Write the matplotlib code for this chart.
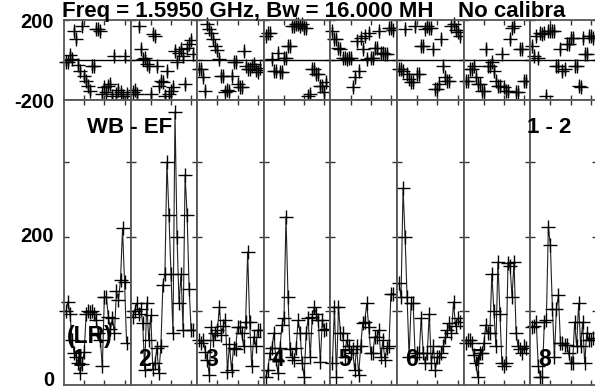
import numpy as np
import matplotlib
matplotlib.use('Agg')
import matplotlib.pyplot as plt

plt.rcParams['font.family'] = ['Liberation Sans', 'DejaVu Sans']

# channel axis shared by all 8 IFs
channels = np.arange(1, 32)
if_labels = ['1', '2', '3', '4', '5', '6', '7', '8']

# amplitude per IF (bottom panel)
amp_if1 = [100, 112, 95, 60, 43, 38, 30, 16, 28, 45, 96, 100, 98, 100, 95, 87, 70, 60, 25, 119,
           118, 92, 75, 90, 70, 126, 115, 141, 211, 139, 56]
amp_if2 = [92, 100, 110, 96, 103, 83, 20, 111, 60, 94, 22, 29, 50, 16, 52, 135, 150, 300, 229, 150,
           70, 368, 200, 110, 150, 74, 283, 229, 130, 74, 74]
amp_if3 = [60, 56, 60, 45, 34, 13, 78, 60, 70, 74, 105, 68, 80, 87, 18, 55, 20, 50, 48, 78,
           78, 70, 52, 85, 179, 85, 25, 65, 52, 74, 74]
amp_if4 = [11, 20, 43, 50, 70, 35, 16, 50, 81, 90, 227, 119, 48, 38, 34, 50, 87, 70, 29, 11,
           70, 90, 38, 92, 105, 96, 87, 31, 87, 74, 76]
amp_if5 = [30, 105, 11, 105, 70, 70, 38, 60, 52, 43, 48, 20, 52, 13, 52, 83, 85, 110, 78, 43,
           43, 65, 65, 74, 38, 60, 34, 50, 52, 123, 123]
amp_if6 = [137, 118, 265, 200, 118, 38, 110, 110, 38, 43, 43, 90, 43, 29, 43, 96, 29, 52, 20, 38,
           38, 43, 52, 65, 74, 83, 70, 112, 79, 90, 85]
amp_if7 = [56, 60, 60, 56, 40, 29, 11, 43, 43, 56, 81, 70, 70, 150, 100, 52, 166, 96, 29, 25,
           29, 165, 160, 119, 166, 70, 52, 48, 43, 52, 50]
amp_if8 = [78, 80, 85, 25, 11, 11, 85, 87, 213, 188, 103, 38, 103, 121, 56, 56, 54, 54, 43, 29,
           29, 85, 52, 110, 52, 85, 29, 70, 61, 61, 63]

# phase per IF (top panel)
ph_if1 = [-12, -12, 24, 7, 145, 104, -26, -54, 170, -79, -104, -129, -154, -29, -32, 153, 153, 145, -170, -137,
          -162, -129, -120, -178, 21, -170, -150, -160, -178, 21, -170]
ph_if2 = [-162, -150, -170, 170, 54, 4, 12, -21, -29, -170, 129, 120, -29, -129, -104, -112, -178, -54, -170, -154,
          -137, 46, -12, 37, 54, 21, -120, 60, 80, 100, 30]
ph_if3 = [-46, -46, -87, -154, 178, 153, 137, 104, 71, 50, 4, -79, -79, -162, -150, -154, -79, -12, -12, -120,
          -137, -137, 46, -29, -46, -46, -30, -20, -50, -60, -40]
ph_if4 = [120, 137, 137, 4, -54, -54, 37, -62, -62, 12, 12, 71, 71, 170, 170, 178, 178, 170, 178, 162,
          162, -180, -170, -46, -46, -71, -71, -129, -129, -162, -112]
ph_if5 = [145, 104, 104, 62, 54, 12, 12, 4, 12, 12, -137, -87, 96, -54, 112, 54, 120, 4, 137, 12,
          12, 62, 62, 145, 37, 37, 29, 29, 162, 162, 150]
ph_if6 = [-46, -46, -54, 153, -71, -96, -112, -112, 170, -71, -71, 71, 71, 153, 170, 162, 162, 54, -145, -145,
          -120, 104, -29, -87, -104, -104, 170, 178, 150, 140, 120]
ph_if7 = [-104, -104, -46, -46, -29, -87, -120, -120, -154, -154, 54, -29, -29, -12, -54, -104, -129, -129, 29, -137,
          -154, -154, 104, 162, 170, -162, -162, 54, 54, -104, -104]
ph_if8 = [71, 21, 120, 12, 137, 129, 137, -178, 145, 145, 145, 145, -29, -29, 54, -54, -46, 79, 79, 112,
          112, -29, -29, -129, -137, 112, 29, 29, 120, 120, 110]

amps = [amp_if1, amp_if2, amp_if3, amp_if4, amp_if5, amp_if6, amp_if7, amp_if8]
phases = [ph_if1, ph_if2, ph_if3, ph_if4, ph_if5, ph_if6, ph_if7, ph_if8]
phase_err = 20

W, H = 595, 391
fig = plt.figure(figsize=(W / 100, H / 100), dpi=100)

x0, colw = 64, 66.6
spine_col = '#555555'


def style(ax):
    for s in ax.spines.values():
        s.set_color(spine_col)
        s.set_linewidth(1.3)
    ax.tick_params(direction='in', top=True, right=True, length=3.6, width=1,
                   color='#333333', labelleft=False, labelbottom=False)
    ax.set_xlim(0, 33)
    ax.set_xticks([10, 20, 30])


for i in range(8):
    left = (x0 + i * colw) / W
    # phase panel
    axp = fig.add_axes([left, 1 - 100 / H, colw / W, 80 / H])
    axp.errorbar(channels, phases[i], yerr=phase_err, fmt='+', color='k', ecolor='#8a8a8a',
                 elinewidth=1.8, ms=9.5, mew=1, capsize=0, clip_on=False)
    axp.axhline(0, color='k', lw=1)
    axp.set_ylim(-200, 200)
    axp.set_yticks([-200, 0, 200])
    style(axp)

    # amplitude panel
    axa = fig.add_axes([left, 1 - 385 / H, colw / W, 285 / H])
    axa.plot(channels, amps[i], color='#222222', lw=0.8, marker='+', ms=9.5, mew=1,
             mec='k', clip_on=False)
    axa.set_ylim(0, 384)
    axa.set_yticks([100, 200, 300])
    style(axa)
    axa.text(4, 35, if_labels[i], fontsize=16.5, fontweight='bold', va='center', ha='left')
    if i == 0:
        axa.text(1.5, 65, '(LR)', fontsize=16.5, fontweight='bold', va='center', ha='left')


def ftext(xp, yp, s, **kw):
    fig.text(xp / W, 1 - yp / H, s, fontweight='bold', **kw)


ftext(62, 17, 'Freq = 1.5950 GHz, Bw = 16.000 MH    No calibra', fontsize=16, va='baseline')
ftext(54, 22, '200', fontsize=14.5, ha='right', va='center')
ftext(54, 102, '-200', fontsize=14.5, ha='right', va='center')
ftext(54, 237, '200', fontsize=14.5, ha='right', va='center')
ftext(54, 381, '0', fontsize=14.5, ha='right', va='center')
ftext(87, 133, 'WB - EF', fontsize=16, va='baseline')
ftext(527, 133, '1 - 2', fontsize=16, va='baseline')

plt.savefig('out.png', dpi=100)
